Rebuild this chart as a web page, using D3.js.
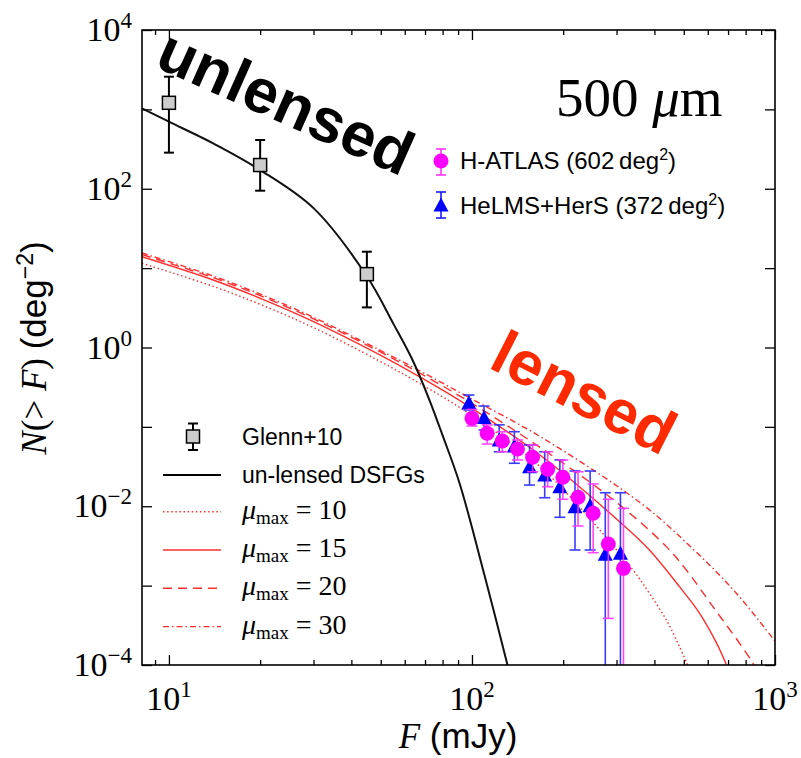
<!DOCTYPE html>
<html>
<head>
<meta charset="utf-8">
<script src="https://cdn.jsdelivr.net/npm/d3@7"></script>
<style>
body { margin: 0; background: #fff; }
</style>
</head>
<body>
<svg id="chart" width="801" height="758"></svg>
<script>
// ---- data ----
var xMajor = [10, 100, 1000];
var xMinor = [9, 20, 30, 40, 50, 60, 70, 80, 90, 200, 300, 400, 500, 600, 700, 800, 900];
var yMajor = [1e-4, 1e-3, 1e-2, 1e-1, 1, 1e1, 1e2, 1e3, 1e4];
var yLabelled = [-4, -2, 0, 2, 4];
var xLabelled = [1, 2, 3];

// Glenn+10 counts
var glennF = [10, 20, 45];
var glennN = [1210, 199, 8.4];
var glennHi = [2580, 411, 16.1];
var glennLo = [285, 94.5, 3.2];

// un-lensed DSFG model
var unlensedF = [8.15, 10, 12.6, 14, 20, 30, 45, 55, 63.6, 72.4, 80, 91, 110, 131];
var unlensedN = [1030, 700, 457, 372, 172, 57, 7.9, 2.0, 0.70, 0.218, 0.078, 0.0195, 0.00135, 0.0001];

// lensed models
var mu10F = [8.15, 14, 20.4, 30, 49.5, 67, 95.7, 171, 340, 385, 438, 484, 515];
var mu10N = [11.5, 5.89, 3.39, 1.78, 0.676, 0.355, 0.155, 0.0295, 0.00157, 0.0008, 0.000369, 0.00017, 0.0001];
var mu15F = [8.15, 14, 20.4, 30, 49.5, 67, 95.7, 171, 311, 385, 484, 564, 641, 692];
var mu15N = [13.9, 7.08, 4.04, 2.12, 0.813, 0.43, 0.191, 0.0417, 0.0061, 0.00281, 0.00097, 0.000448, 0.00019, 0.0001];
var mu20F = [8.15, 14, 20.4, 30, 49.5, 67, 95.7, 171, 300, 438, 510, 624, 764, 846, 870];
var mu20N = [14.8, 7.59, 4.37, 2.29, 0.891, 0.479, 0.219, 0.0525, 0.0112, 0.0031, 0.00157, 0.000543, 0.000188, 0.000105, 0.000085];
var mu30F = [8.15, 14, 20.4, 30, 49.5, 67, 95.7, 171, 367, 540, 746, 1000];
var mu30N = [15.5, 7.94, 4.57, 2.4, 0.933, 0.513, 0.245, 0.0724, 0.0104, 0.00282, 0.0008, 0.0002];

// H-ATLAS (602 deg^2)
var hatlasF = [100, 112.2, 125.9, 141.3, 158.5, 177.8, 199.5, 223.9, 251.2, 281.8, 316.2];
var hatlasN = [0.128, 0.083, 0.0664, 0.0526, 0.0414, 0.0294, 0.0232, 0.0130, 0.00815, 0.00334, 0.00165];
var hatlasHi = [0.166, 0.106, 0.0869, 0.0684, 0.0592, 0.0486, 0.0383, 0.0272, 0.0191, 0.01225, 0.00942];
var hatlasLo = [0.1026, 0.0608, 0.0486, 0.0383, 0.0272, 0.0176, 0.01225, 0.00564, 0.0026, 0.000387, 0];

// HeLMS+HerS (372 deg^2)
var helmsF = [97.7, 109.6, 123.0, 138.0, 154.9, 173.8, 195.0, 218.8, 245.5, 275.4, 309.0];
var helmsN = [0.202, 0.131, 0.0684, 0.0574, 0.0315, 0.0248, 0.0176, 0.00986, 0.0102, 0.00249, 0.00255];
var helmsHi = [0.252, 0.183, 0.106, 0.0869, 0.0592, 0.0486, 0.0383, 0.0278, 0.0278, 0.0148, 0.0148];
var helmsLo = [0.163, 0.0914, 0.0486, 0.0348, 0.0185, 0.0128, 0.00726, 0.00281, 0.00281, 0, 0];

var serif = "'Liberation Serif', 'DejaVu Serif', serif";
var sans = "'Liberation Sans', Arial, sans-serif";
var red = "#ff2e2e";

// ---- scales ----
var plotL = 142, plotR = 775, plotT = 30, plotB = 665;
var x = d3.scaleLog().domain([8.15, 1000]).range([plotL, plotR]);
var y = d3.scaleLog().domain([1e-4, 1e4]).range([plotB, plotT]);

var svg = d3.select("#chart");

svg.append("clipPath").attr("id", "plotclip")
    .append("rect")
    .attr("x", plotL).attr("y", plotT)
    .attr("width", plotR - plotL).attr("height", plotB - plotT);

var plot = svg.append("g").attr("clip-path", "url(#plotclip)");

var zip = function (fs, ns) {
    return fs.map(function (f, i) { return [f, ns[i]]; });
};

var line = d3.line()
    .x(function (d) { return x(d[0]); })
    .y(function (d) { return y(d[1]); })
    .curve(d3.curveCatmullRom.alpha(0.5));

// lensed curves
var lensed = [
    {f: mu10F, n: mu10N, dash: "1.5,2.6"},
    {f: mu15F, n: mu15N, dash: null},
    {f: mu20F, n: mu20N, dash: "9,6"},
    {f: mu30F, n: mu30N, dash: "6,3,1.5,3"}
];
lensed.forEach(function (c) {
    plot.append("path")
        .attr("d", line(zip(c.f, c.n)))
        .attr("fill", "none")
        .attr("stroke", red)
        .attr("stroke-width", 1.4)
        .attr("stroke-dasharray", c.dash);
});

// un-lensed curve
plot.append("path")
    .attr("d", line(zip(unlensedF, unlensedN)))
    .attr("fill", "none")
    .attr("stroke", "#111")
    .attr("stroke-width", 2);

var yv = function (v) { return v > 0 ? y(v) : plotB + 5; };

var errorBars = function (g, fs, hi, lo, color, cap, width, opacity) {
    fs.forEach(function (f, i) {
        var cx = x(f);
        var bar = g.append("g").attr("stroke", color).attr("stroke-width", width).attr("opacity", opacity);
        bar.append("line").attr("x1", cx).attr("x2", cx).attr("y1", yv(hi[i])).attr("y2", yv(lo[i]));
        bar.append("line").attr("x1", cx - cap).attr("x2", cx + cap).attr("y1", yv(hi[i])).attr("y2", yv(hi[i]));
        if (lo[i] > 0)
            bar.append("line").attr("x1", cx - cap).attr("x2", cx + cap).attr("y1", yv(lo[i])).attr("y2", yv(lo[i]));
    });
};

// Glenn+10
errorBars(plot, glennF, glennHi, glennLo, "#000", 5, 2, 1);
plot.selectAll("rect.glenn")
    .data(zip(glennF, glennN))
    .enter().append("rect")
    .attr("class", "glenn")
    .attr("x", function (d) { return x(d[0]) - 6.5; })
    .attr("y", function (d) { return y(d[1]) - 6.5; })
    .attr("width", 13).attr("height", 13)
    .attr("fill", "#cccccc").attr("stroke", "#000").attr("stroke-width", 1.5);

// HeLMS+HerS triangles
var tri = function (cx, cy) {
    return "M" + cx + "," + (cy - 7.5) + "L" + (cx + 7.5) + "," + (cy + 6.5) + "L" + (cx - 7.5) + "," + (cy + 6.5) + "Z";
};
errorBars(plot, helmsF, helmsHi, helmsLo, "#1a1aff", 5.5, 1.6, 0.85);
plot.selectAll("path.helms")
    .data(zip(helmsF, helmsN))
    .enter().append("path")
    .attr("class", "helms")
    .attr("d", function (d) { return tri(x(d[0]), y(d[1])); })
    .attr("fill", "#0000ff");

// H-ATLAS circles
errorBars(plot, hatlasF, hatlasHi, hatlasLo, "#ff33ff", 5.5, 1.6, 0.9);
plot.selectAll("circle.hatlas")
    .data(zip(hatlasF, hatlasN))
    .enter().append("circle")
    .attr("class", "hatlas")
    .attr("cx", function (d) { return x(d[0]); })
    .attr("cy", function (d) { return y(d[1]); })
    .attr("r", 7.5)
    .attr("fill", "#ff00ff");

// ---- axes (ticks pointing inward on all four sides) ----
var styleAxis = function (g) {
    g.select(".domain").remove();
    g.selectAll(".tick line").attr("stroke", "#000").attr("stroke-width", 1.3);
};
var none = function () { return ""; };
svg.append("g").attr("transform", "translate(0," + plotB + ")")
    .call(d3.axisBottom(x).tickValues(xMajor).tickSize(-10).tickFormat(none)).call(styleAxis);
svg.append("g").attr("transform", "translate(0," + plotB + ")")
    .call(d3.axisBottom(x).tickValues(xMinor).tickSize(-5).tickFormat(none)).call(styleAxis);
svg.append("g").attr("transform", "translate(0," + plotT + ")")
    .call(d3.axisTop(x).tickValues(xMajor).tickSize(-10).tickFormat(none)).call(styleAxis);
svg.append("g").attr("transform", "translate(0," + plotT + ")")
    .call(d3.axisTop(x).tickValues(xMinor).tickSize(-5).tickFormat(none)).call(styleAxis);
svg.append("g").attr("transform", "translate(" + plotL + ",0)")
    .call(d3.axisLeft(y).tickValues(yMajor).tickSize(-10).tickFormat(none)).call(styleAxis);
svg.append("g").attr("transform", "translate(" + plotR + ",0)")
    .call(d3.axisRight(y).tickValues(yMajor).tickSize(-10).tickFormat(none)).call(styleAxis);

svg.append("rect")
    .attr("x", plotL).attr("y", plotT)
    .attr("width", plotR - plotL).attr("height", plotB - plotT)
    .attr("fill", "none").attr("stroke", "#000").attr("stroke-width", 1.6);

// tick labels 10^n
var power = function (sel, e) {
    sel.append("tspan").text("10");
    sel.append("tspan").attr("font-size", "23px").attr("dy", -13)
        .text(e < 0 ? "\u2212" + (-e) : String(e));
};
xLabelled.forEach(function (e) {
    var t = svg.append("text")
        .attr("x", x(Math.pow(10, e)))
        .attr("y", 710)
        .attr("text-anchor", "middle")
        .attr("font-family", serif)
        .attr("font-size", "34px");
    power(t, e);
});
yLabelled.forEach(function (e) {
    var t = svg.append("text")
        .attr("x", 132)
        .attr("y", y(Math.pow(10, e)) + 11)
        .attr("text-anchor", "end")
        .attr("font-family", serif)
        .attr("font-size", "34px");
    power(t, e);
});

// axis titles
var xl = svg.append("text")
    .attr("x", 458).attr("y", 748)
    .attr("text-anchor", "middle")
    .attr("font-size", "35px");
xl.append("tspan").attr("font-family", serif).attr("font-style", "italic").text("F");
xl.append("tspan").attr("font-family", sans).text(" (mJy)");

var yl = svg.append("text")
    .attr("transform", "translate(46,348) rotate(-90)")
    .attr("text-anchor", "middle")
    .attr("font-size", "35px");
yl.append("tspan").attr("font-family", serif).attr("font-style", "italic").text("N");
yl.append("tspan").attr("font-family", serif).text("(> ");
yl.append("tspan").attr("font-family", serif).attr("font-style", "italic").text("F");
yl.append("tspan").attr("font-family", serif).text(") ");
yl.append("tspan").attr("font-family", sans).text("(deg");
yl.append("tspan").attr("font-family", sans).attr("font-size", "23px").attr("dy", -13).text("\u22122");
yl.append("tspan").attr("font-family", sans).attr("dy", 13).text(")");

// 500 um
var band = svg.append("text")
    .attr("x", 556).attr("y", 116)
    .attr("font-family", serif)
    .attr("font-size", "55px");
band.append("tspan").text("500 ");
band.append("tspan").attr("font-style", "italic").text("\u03bc");
band.append("tspan").text("m");

// big annotations
svg.append("text")
    .attr("transform", "translate(153,66) rotate(24)")
    .attr("font-family", sans).attr("font-weight", "bold")
    .attr("font-size", "62px").attr("fill", "#000")
    .text("unlensed");
svg.append("text")
    .attr("transform", "translate(487,367) rotate(27)")
    .attr("font-family", sans).attr("font-weight", "bold")
    .attr("font-size", "62px").attr("fill", "#ff2a00")
    .text("lensed");

// ---- legend: data sets (top right) ----
var lx = 441;
var lg = svg.append("g");
var lb = lg.append("g").attr("stroke", "#ff33ff").attr("stroke-width", 1.6);
lb.append("line").attr("x1", lx).attr("x2", lx).attr("y1", 149).attr("y2", 175);
lb.append("line").attr("x1", lx - 5).attr("x2", lx + 5).attr("y1", 149).attr("y2", 149);
lb.append("line").attr("x1", lx - 5).attr("x2", lx + 5).attr("y1", 175).attr("y2", 175);
lg.append("circle").attr("cx", lx).attr("cy", 161).attr("r", 7.5).attr("fill", "#ff00ff");
var lb2 = lg.append("g").attr("stroke", "#1a1aff").attr("stroke-width", 1.6);
lb2.append("line").attr("x1", lx).attr("x2", lx).attr("y1", 192).attr("y2", 218);
lb2.append("line").attr("x1", lx - 5).attr("x2", lx + 5).attr("y1", 192).attr("y2", 192);
lb2.append("line").attr("x1", lx - 5).attr("x2", lx + 5).attr("y1", 218).attr("y2", 218);
lg.append("path").attr("d", tri(lx, 205)).attr("fill", "#0000ff");

var legText = function (tx, ty, name, area) {
    var t = svg.append("text").attr("x", tx).attr("y", ty)
        .attr("font-family", sans).attr("font-size", "24px");
    t.append("tspan").text(name + " (" + area + "\u2009deg");
    t.append("tspan").attr("font-size", "16px").attr("dy", -9).text("2");
    t.append("tspan").attr("dy", 9).text(")");
};
legText(460, 169, "H-ATLAS", 602);
legText(460, 214, "HeLMS+HerS", 372);

// ---- legend: models (lower left) ----
var mx = 193;
var sq = svg.append("g");
var sb = sq.append("g").attr("stroke", "#000").attr("stroke-width", 2);
sb.append("line").attr("x1", mx).attr("x2", mx).attr("y1", 423.5).attr("y2", 450);
sb.append("line").attr("x1", mx - 5).attr("x2", mx + 5).attr("y1", 423.5).attr("y2", 423.5);
sb.append("line").attr("x1", mx - 5).attr("x2", mx + 5).attr("y1", 450).attr("y2", 450);
sq.append("rect").attr("x", mx - 6.5).attr("y", 430).attr("width", 13).attr("height", 13)
    .attr("fill", "#cccccc").attr("stroke", "#000").attr("stroke-width", 1.5);
svg.append("text").attr("x", 242).attr("y", 445)
    .attr("font-family", sans).attr("font-size", "23px").text("Glenn+10");

svg.append("line").attr("x1", 163).attr("x2", 221).attr("y1", 475).attr("y2", 475)
    .attr("stroke", "#000").attr("stroke-width", 2.2);
svg.append("text").attr("x", 242).attr("y", 483)
    .attr("font-family", sans).attr("font-size", "23px").text("un-lensed DSFGs");

var muLabels = [10, 15, 20, 30];
muLabels.forEach(function (m, i) {
    var ly = 511.7 + i * 38.3;
    svg.append("line").attr("x1", 163).attr("x2", 221).attr("y1", ly).attr("y2", ly)
        .attr("stroke", red).attr("stroke-width", 1.4)
        .attr("stroke-dasharray", lensed[i].dash);
    var t = svg.append("text").attr("x", 242).attr("y", ly + 7)
        .attr("font-family", serif).attr("font-size", "28px");
    t.append("tspan").attr("font-style", "italic").text("\u03bc");
    t.append("tspan").attr("font-size", "19px").attr("dy", 5).text("max");
    t.append("tspan").attr("dy", -5).text(" = " + m);
});
</script>
</body>
</html>
